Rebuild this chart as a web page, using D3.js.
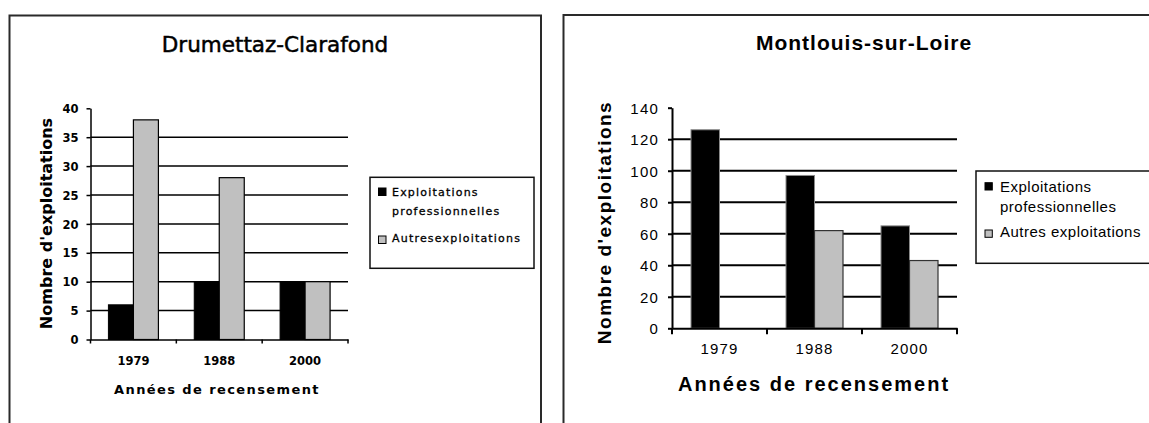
<!DOCTYPE html>
<html>
<head>
<meta charset="utf-8">
<script src="https://cdn.jsdelivr.net/npm/d3@7"></script>
<style>
  body { margin: 0; background: #fff; }
  svg { display: block; }
</style>
</head>
<body>
<div id="chart"></div>
<script>
// Data
var years = ["1979", "1988", "2000"];

var drumettazTitle = "Drumettaz-Clarafond";
var drumettazPro = [6, 10, 10];
var drumettazAutres = [38, 28, 10];
var drumettazTicks = [0, 5, 10, 15, 20, 25, 30, 35, 40];
var drumettazLegend = [["Exploitations", "professionnelles"], ["Autresexploitations"]];

var montlouisTitle = "Montlouis-sur-Loire";
var montlouisPro = [126, 97, 65];
var montlouisAutres = [0, 62, 43];
var montlouisTicks = [0, 20, 40, 60, 80, 100, 120, 140];
var montlouisLegend = [["Exploitations", "professionnelles"], ["Autres exploitations"]];

var yTitle = "Nombre d'exploitations";
var xTitle = "Années de recensement";

var PRO_FILL = "#000000",
    AUTRES_FILL = "#c0c0c0";

var svg = d3.select("#chart").append("svg")
  .attr("width", 1149)
  .attr("height", 423);

/**
 * Draws one framed bar chart.
 */
function drawChart(cfg, pro, autres, ticks, legend, title) {
  var g = svg.append("g"),
      x = d3.scaleBand().domain(years).range([cfg.x0, cfg.x1]),
      y = d3.scaleLinear().domain([0, d3.max(ticks)]).range([cfg.y0, cfg.y1]);

  // Frame
  g.append("rect")
    .attr("x", cfg.frame[0]).attr("y", cfg.frame[1])
    .attr("width", cfg.frame[2]).attr("height", 600)
    .attr("fill", "none")
    .attr("stroke", "#2a2a2a")
    .attr("stroke-width", 2);

  // Title
  g.append("text")
    .attr("x", cfg.titleX).attr("y", cfg.titleY)
    .attr("text-anchor", "middle")
    .style("font-family", cfg.font)
    .style("font-size", cfg.titleSize + "px")
    .style("font-weight", cfg.titleWeight)
    .style("letter-spacing", cfg.titleSpacing + "px")
    .attr("stroke", "#000")
    .attr("stroke-width", cfg.titleStroke)
    .text(title);

  // Gridlines
  g.append("g").selectAll("line")
    .data(ticks.filter(function (t) { return t > 0 && t < d3.max(ticks); }))
    .enter().append("line")
      .attr("x1", cfg.x0).attr("x2", cfg.x1)
      .attr("y1", function (d) { return y(d); })
      .attr("y2", function (d) { return y(d); })
      .attr("stroke", "#000")
      .attr("stroke-width", cfg.lineW);

  // Bars
  var bw = cfg.barW;
  g.append("g").selectAll("rect")
    .data(years)
    .enter().append("rect")
      .attr("x", function (d) { return x(d) + x.bandwidth() / 2 - bw; })
      .attr("y", function (d, i) { return y(pro[i]); })
      .attr("width", bw)
      .attr("height", function (d, i) { return y(0) - y(pro[i]); })
      .attr("fill", PRO_FILL)
      .attr("stroke", cfg.proStroke)
      .attr("stroke-width", 1);

  g.append("g").selectAll("rect")
    .data(years.filter(function (d, i) { return autres[i] > 0; }))
    .enter().append("rect")
      .attr("x", function (d) { return x(d) + x.bandwidth() / 2; })
      .attr("y", function (d) { return y(autres[years.indexOf(d)]); })
      .attr("width", bw)
      .attr("height", function (d) { return y(0) - y(autres[years.indexOf(d)]); })
      .attr("fill", AUTRES_FILL)
      .attr("stroke", cfg.autresStroke)
      .attr("stroke-width", 1.2);

  // Y axis
  var yAxis = g.append("g")
    .attr("transform", "translate(" + cfg.x0 + ",0)")
    .call(d3.axisLeft(y).tickValues(ticks).tickSize(cfg.tickLen).tickSizeOuter(0).tickPadding(cfg.yPad));
  yAxis.select(".domain").attr("stroke-width", cfg.lineW);
  yAxis.selectAll(".tick line").attr("stroke-width", cfg.lineW);
  yAxis.selectAll("text")
    .attr("dy", "0.36em")
    .style("font-family", cfg.font)
    .style("font-size", cfg.tickSize + "px")
    .style("font-weight", cfg.tickWeight)
    .style("letter-spacing", cfg.tickSpacing + "px")
    .attr("fill", "#000");

  // X axis (labels centred, ticks on the category boundaries)
  var xAxis = g.append("g")
    .attr("transform", "translate(0," + cfg.y0 + ")")
    .call(d3.axisBottom(x).tickSize(0).tickSizeOuter(0).tickPadding(cfg.xPad));
  xAxis.select(".domain").attr("stroke-width", cfg.lineW);
  xAxis.selectAll("text")
    .attr("dy", "0.71em")
    .style("font-family", cfg.font)
    .style("font-size", cfg.tickSize + "px")
    .style("font-weight", cfg.tickWeight)
    .style("letter-spacing", cfg.tickSpacing + "px")
    .attr("fill", "#000");
  xAxis.selectAll(".bound")
    .data(years.map(function (d) { return x(d); }).concat([cfg.x1]))
    .enter().append("line")
      .attr("class", "bound")
      .attr("x1", function (d) { return d; }).attr("x2", function (d) { return d; })
      .attr("y1", 0).attr("y2", cfg.xTickLen)
      .attr("stroke", "#000")
      .attr("stroke-width", cfg.lineW);

  // Axis titles
  g.append("text")
    .attr("x", cfg.xTitleX).attr("y", cfg.xTitleY)
    .attr("text-anchor", "middle")
    .style("font-family", cfg.font)
    .style("font-size", cfg.xTitleSize + "px")
    .style("font-weight", "bold")
    .style("letter-spacing", cfg.xTitleSpacing + "px")
    .text(xTitle);

  g.append("text")
    .attr("transform", "translate(" + cfg.yTitleX + "," + cfg.yTitleY + ") rotate(-90)")
    .attr("text-anchor", "middle")
    .attr("dominant-baseline", "central")
    .style("font-family", cfg.font)
    .style("font-size", cfg.yTitleSize + "px")
    .style("font-weight", "bold")
    .style("letter-spacing", cfg.yTitleSpacing + "px")
    .text(yTitle);

  // Legend
  var lg = g.append("g");
  lg.append("rect")
    .attr("x", cfg.legBox[0]).attr("y", cfg.legBox[1])
    .attr("width", cfg.legBox[2]).attr("height", cfg.legBox[3])
    .attr("fill", "#fff")
    .attr("stroke", "#111")
    .attr("stroke-width", 1.5);

  var row = 0;
  legend.forEach(function (lines, i) {
    lg.append("rect")
      .attr("x", cfg.legSwX).attr("y", cfg.legSwY[i])
      .attr("width", cfg.legSw).attr("height", cfg.legSw)
      .attr("fill", i === 0 ? PRO_FILL : AUTRES_FILL)
      .attr("stroke", "#000")
      .attr("stroke-width", 1);
    lines.forEach(function (line) {
      lg.append("text")
        .attr("x", cfg.legTextX).attr("y", cfg.legRowY[row])
        .style("font-family", cfg.font)
        .style("font-size", cfg.legSize + "px")
        .style("letter-spacing", cfg.legSpacing + "px")
        .attr("stroke", "#000")
        .attr("stroke-width", cfg.legStroke)
        .text(line);
      row += 1;
    });
  });
}

drawChart({
  frame: [9.5, 15.5, 531.5],
  font: "'DejaVu Sans', sans-serif",
  titleX: 275, titleY: 52, titleSize: 21.5, titleWeight: "normal", titleSpacing: 0, titleStroke: 0.5,
  x0: 90.5, x1: 348, y0: 339.5, y1: 108.3,
  barW: 25, lineW: 1.5, proStroke: "#000", autresStroke: "#000",
  tickLen: 4, xTickLen: 4, yPad: 8, xPad: 17,
  tickSize: 11.5, tickWeight: "bold", tickSpacing: 0,
  xTitleX: 217, xTitleY: 394, xTitleSize: 13, xTitleSpacing: 1.4,
  yTitleX: 46, yTitleY: 223.5, yTitleSize: 16, yTitleSpacing: 0,
  legBox: [370, 177.3, 164, 91],
  legSwX: 378.5, legSwY: [188, 236], legSw: 7.5,
  legTextX: 392, legRowY: [195.5, 214.5, 242], legSize: 11, legSpacing: 1.2, legStroke: 0.3
}, drumettazPro, drumettazAutres, drumettazTicks, drumettazLegend, drumettazTitle);

drawChart({
  frame: [563.5, 15, 700],
  font: "'Liberation Sans', Arial, sans-serif",
  titleX: 864, titleY: 50, titleSize: 21, titleWeight: "bold", titleSpacing: 1, titleStroke: 0,
  x0: 672, x1: 957, y0: 328.3, y1: 107.7,
  barW: 28.5, lineW: 2, proStroke: "#8a8a8a", autresStroke: "#333",
  tickLen: 4, xTickLen: 6, yPad: 9, xPad: 15,
  tickSize: 15, tickWeight: "normal", tickSpacing: 1.2,
  xTitleX: 814, xTitleY: 391, xTitleSize: 20, xTitleSpacing: 2,
  yTitleX: 604, yTitleY: 222.5, yTitleSize: 19, yTitleSpacing: 1.5,
  legBox: [976, 171, 200, 92.3],
  legSwX: 985, legSwY: [182.7, 230], legSw: 7.3,
  legTextX: 1000, legRowY: [191.5, 212, 237], legSize: 15, legSpacing: 0.5, legStroke: 0
}, montlouisPro, montlouisAutres, montlouisTicks, montlouisLegend, montlouisTitle);
</script>
</body>
</html>
